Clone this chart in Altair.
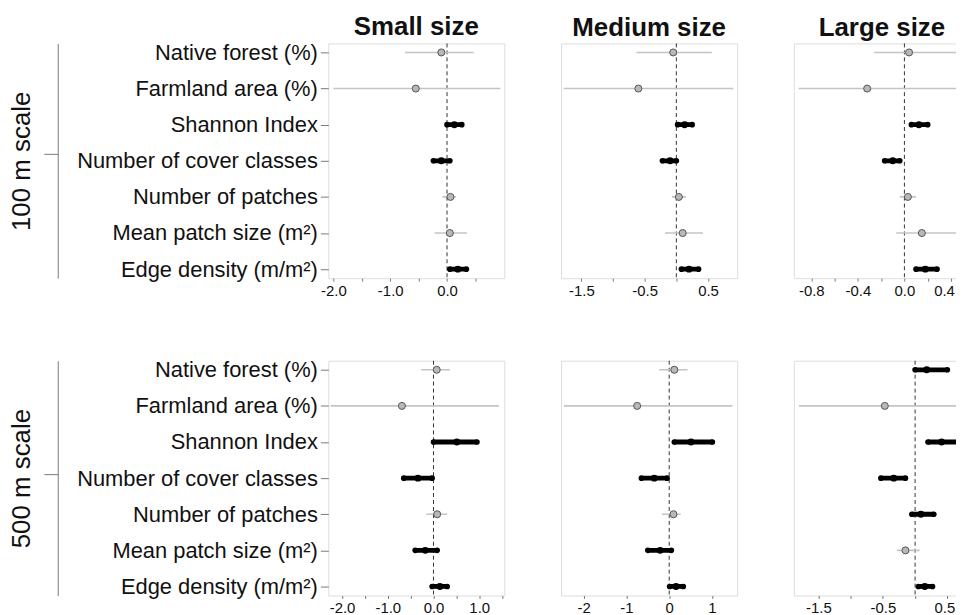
import altair as alt
import pandas as pd

variables = ["Native forest (%)", "Farmland area (%)", "Shannon Index",
             "Number of cover classes", "Number of patches",
             "Mean patch size (m²)", "Edge density (m/m²)"]
size_titles = ["Small size", "Medium size", "Large size"]
scale_titles = ["100 m scale", "500 m scale"]

# ---- 100 m scale ----
small_100_est = [-0.10, -0.55, 0.13, -0.10, 0.06, 0.05, 0.19]
small_100_lo = [-0.74, -2.00, 0.00, -0.24, -0.08, -0.22, 0.05]
small_100_hi = [0.47, 0.94, 0.26, 0.05, 0.16, 0.35, 0.34]
small_100_sig = [0, 0, 1, 1, 0, 0, 1]

medium_100_est = [-0.05, -0.60, 0.13, -0.10, 0.04, 0.10, 0.20]
medium_100_lo = [-0.63, -1.78, 0.02, -0.22, -0.07, -0.18, 0.08]
medium_100_hi = [0.56, 0.90, 0.25, 0.00, 0.15, 0.42, 0.35]
medium_100_sig = [0, 0, 1, 1, 0, 0, 1]

large_100_est = [0.04, -0.32, 0.125, -0.10, 0.03, 0.15, 0.18]
large_100_lo = [-0.26, -0.91, 0.06, -0.17, -0.04, -0.07, 0.10]
large_100_hi = [0.55, 0.50, 0.20, -0.04, 0.10, 0.45, 0.28]
large_100_sig = [0, 0, 1, 1, 0, 0, 1]

# ---- 500 m scale ----
small_500_est = [0.07, -0.69, 0.51, -0.34, 0.08, -0.18, 0.14]
small_500_lo = [-0.27, -2.25, 0.00, -0.65, -0.16, -0.40, -0.03]
small_500_hi = [0.36, 1.43, 0.95, -0.03, 0.30, 0.08, 0.30]
small_500_sig = [0, 0, 1, 1, 0, 1, 1]

medium_500_est = [0.12, -0.75, 0.51, -0.35, 0.10, -0.21, 0.16]
medium_500_lo = [-0.23, -2.46, 0.12, -0.65, -0.17, -0.50, 0.01]
medium_500_hi = [0.43, 1.48, 1.01, -0.05, 0.27, 0.05, 0.33]
medium_500_sig = [0, 0, 1, 1, 0, 1, 1]

large_500_est = [0.18, -0.47, 0.41, -0.33, 0.09, -0.15, 0.15]
large_500_lo = [0.00, -1.80, 0.20, -0.53, -0.05, -0.28, 0.05]
large_500_hi = [0.50, 0.86, 0.72, -0.15, 0.29, 0.07, 0.27]
large_500_sig = [1, 0, 1, 1, 1, 0, 1]

# ---- axis ticks / labels ----
small_100_ticks = [-2, -1.5, -1, -0.5, 0, 0.5]
small_100_labels = ["-2.0", "", "-1.0", "", "0.0", ""]
medium_100_ticks = [-1.5, -1, -0.5, 0, 0.5]
medium_100_labels = ["-1.5", "", "-0.5", "", "0.5"]
large_100_ticks = [-0.8, -0.6, -0.4, -0.2, 0, 0.2, 0.4]
large_100_labels = ["-0.8", "", "-0.4", "", "0.0", "", "0.4"]
small_500_ticks = [-2, -1.5, -1, -0.5, 0, 0.5, 1, 1.5]
small_500_labels = ["-2.0", "", "-1.0", "", "0.0", "", "1.0", ""]
medium_500_ticks = [-2, -1, 0, 1]
medium_500_labels = ["-2", "-1", "0", "1"]
large_500_ticks = [-1.5, -1, -0.5, 0, 0.5]
large_500_labels = ["-1.5", "", "-0.5", "", "0.5"]

# ---- layout (scale extents) ----
small_100_domain = [-2.09, 1.01]
medium_100_domain = [-1.82, 0.96]
large_100_domain = [-0.95, 0.563]
small_500_domain = [-2.30, 1.55]
medium_500_domain = [-2.53, 1.59]
large_500_domain = [-1.88, 0.85]

FONT = "Liberation Sans"
FRAME = "#7a7a7a"
TEXT = "#111111"
PW, PH = 177, 236


def label_expr(ticks, labels):
    expr = "''"
    for t, l in reversed(list(zip(ticks, labels))):
        expr = f"abs(datum.value - ({t})) < 1e-6 ? '{l}' : ({expr})"
    return expr


def panel(est, lo, hi, sig, ticks, labels, domain, title=None,
          scale_name=None, tick_pos=0.5, edge_shift=0):
    df = pd.DataFrame({"variable": variables, "est": est, "lo": lo,
                       "hi": hi, "sig": sig})
    base = alt.Chart(df)
    yscale = alt.Scale(type="point", domain=variables, padding=0.25)
    if scale_name is not None:
        yaxis = alt.Axis(title=None, labelFontSize=22, labelColor=TEXT,
                         labelLimit=400, labelPadding=3, tickSize=8,
                         tickColor=FRAME, domain=False, labelFont=FONT,
                         grid=False)
    else:
        yaxis = None
    y = alt.Y("variable:N", scale=yscale, axis=yaxis)
    xscale = alt.Scale(domain=domain, nice=False, zero=False)
    axis_kw = dict(title=None, values=ticks,
                   labelExpr=label_expr(ticks, labels), labelFontSize=15,
                   labelColor=TEXT, tickSize=3, tickColor=FRAME,
                   labelPadding=2, domain=False, grid=False, labelFont=FONT)
    if edge_shift:
        # the panel is cut by the picture's right edge: nudge the last label inside
        axis_kw["labelOffset"] = {
            "condition": {"test": f"abs(datum.value - ({ticks[-1]})) < 1e-6",
                          "value": edge_shift},
            "value": 0}
    xaxis = alt.Axis(**axis_kw)

    def xenc(f):
        return alt.X(f, scale=xscale, axis=xaxis)

    zero = alt.Chart(pd.DataFrame({"ref": [0.0]})).mark_rule(
        color="#333333", strokeDash=[4, 3], strokeWidth=1).encode(x=xenc("ref:Q"))
    gray = base.transform_filter("datum.sig == 0")
    black = base.transform_filter("datum.sig == 1")
    gray_ci = gray.mark_rule(color="#c4c4c4", strokeWidth=1.6, clip=True).encode(
        x=xenc("lo:Q"), x2="hi:Q", y=y)
    black_ci = black.mark_rule(color="black", strokeWidth=4.8, clip=True).encode(
        x=xenc("lo:Q"), x2="hi:Q", y=y)
    black_ends = black.transform_fold(["lo", "hi"], as_=["end", "val"]).mark_circle(
        color="black", size=32, opacity=1, clip=True).encode(x=xenc("val:Q"), y=y)
    gray_pts = gray.mark_point(shape="circle", filled=True, fill="#b8b8b8",
                               stroke="#555555", strokeWidth=1, size=50,
                               opacity=1, clip=True).encode(x=xenc("est:Q"), y=y)
    black_pts = black.mark_circle(color="black", size=48, opacity=1,
                                  clip=True).encode(x=xenc("est:Q"), y=y)
    main = alt.layer(zero, gray_ci, black_ci, black_ends, gray_pts, black_pts)

    if scale_name is not None:
        bracket = alt.Chart(pd.DataFrame({"m": [0.5]})).mark_point(opacity=0).encode(
            y=alt.Y("m:Q", scale=alt.Scale(domain=[0, 1]),
                    axis=alt.Axis(orient="left", offset=272, values=[tick_pos],
                                  labels=False, ticks=True, tickSize=14,
                                  tickColor=FRAME, domain=True,
                                  domainColor=FRAME, grid=False,
                                  title=scale_name, titleFontSize=26,
                                  titleFontWeight="normal", titleColor=TEXT,
                                  titlePadding=9, titleFont=FONT)))
        ch = alt.layer(main, bracket).resolve_scale(y="independent")
    else:
        ch = main
    props = dict(width=PW, height=PH)
    if title is not None:
        props["title"] = alt.TitleParams(title, fontSize=26, fontWeight="bold",
                                         font=FONT, color=TEXT, offset=2,
                                         anchor="middle", frame="group")
    return ch.properties(**props)


row1 = alt.hconcat(
    panel(small_100_est, small_100_lo, small_100_hi, small_100_sig,
          small_100_ticks, small_100_labels, small_100_domain,
          title=size_titles[0], scale_name=scale_titles[0], tick_pos=0.531),
    panel(medium_100_est, medium_100_lo, medium_100_hi, medium_100_sig,
          medium_100_ticks, medium_100_labels, medium_100_domain,
          title=size_titles[1]),
    panel(large_100_est, large_100_lo, large_100_hi, large_100_sig,
          large_100_ticks, large_100_labels, large_100_domain,
          title=size_titles[2], edge_shift=-7),
    spacing=55)

row2 = alt.hconcat(
    panel(small_500_est, small_500_lo, small_500_hi, small_500_sig,
          small_500_ticks, small_500_labels, small_500_domain,
          scale_name=scale_titles[1], tick_pos=0.516),
    panel(medium_500_est, medium_500_lo, medium_500_hi, medium_500_sig,
          medium_500_ticks, medium_500_labels, medium_500_domain),
    panel(large_500_est, large_500_lo, large_500_hi, large_500_sig,
          large_500_ticks, large_500_labels, large_500_domain, edge_shift=-3),
    spacing=55)

# the right-hand column runs past the picture's right edge, as in the reference
chart = alt.vconcat(row1, row2, spacing=59).properties(
    padding={"left": 0, "top": 3, "right": -15, "bottom": 0}
).configure_view(stroke=FRAME, strokeWidth=1.2).configure(font=FONT)

chart.save("out.html", embed_options={"renderer": "svg", "actions": False})
